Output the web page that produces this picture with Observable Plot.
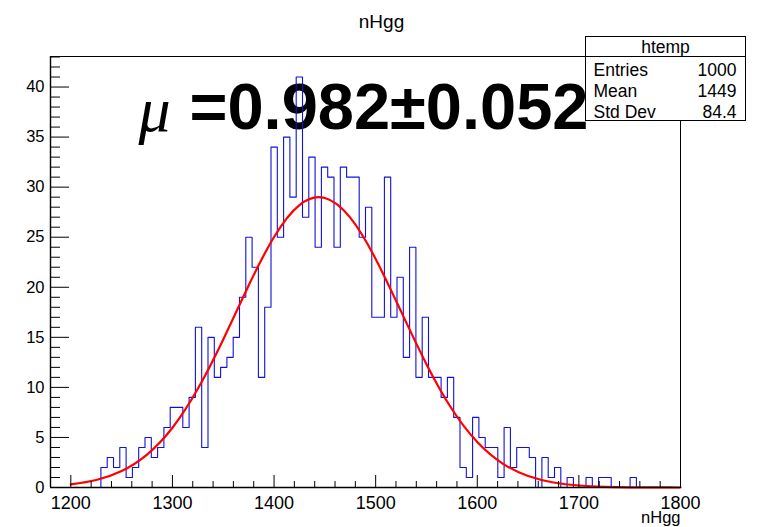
<!DOCTYPE html>
<html><head><meta charset="utf-8">
<script src="https://cdn.jsdelivr.net/npm/d3@7"></script>
<script src="https://cdn.jsdelivr.net/npm/@observablehq/plot@0.6"></script>
<style>
html,body{margin:0;padding:0;background:#fff;}
#chart{width:766px;height:527px;overflow:hidden;}
svg{font-family:"Liberation Sans",Arial,sans-serif;}
</style></head><body><div id="chart"></div>
<script>
// ---- data ----
const histTitle = "nHgg";
const xLabel = "nHgg";
const xMin = 1180, xMax = 1800, nBins = 100;
const counts = [0,0,0,0,0,0,0,0,2,3, 2,4,1,2,4,5,3,4,6,8, 8,6,9,16,4,15,11,12,13,15,
  19,25,22,11,18,34,25,35,29,41, 27,33,24,32,31,24,32,31,31,25, 28,17,17,31,17,21,13,24,11,17,
  11,11,9,11,7,2,1,7,5,4, 4,1,6,2,4,4,3,0,3,1, 2,0,1,0,0,1,0,1,1,0, 0,0,1,0,0,0,0,0,0,0];
const fitX = [1200,1225,1250,1275,1300,1325,1350,1375,1400,1425,1450,1475,1500,1525,1550,1575,1600,1625,1650,1675,1700,1725,1750,1775,1800];
const fitY = [0.31,0.75,1.65,3.29,5.97,9.86,14.79,20.18,25.02,28.21,28.92,26.95,22.83,17.59,12.32,7.84,4.54,2.39,1.14,0.50,0.20,0.07,0.02,0.01,0.00];
const xMajorTicks = [1200,1300,1400,1500,1600,1700,1800];
const yMajorTicks = [0,5,10,15,20,25,30,35,40];
const yMax = 43.05;
const statsName = "htemp";
const statsLabels = ["Entries","Mean","Std Dev"];
const statsValues = ["1000","1449","84.4"];
const muSymbol = "μ";
const muText = "=0.982±0.052";

// ---- derived tables ----
const binW = (xMax - xMin) / nBins;
const histPts = counts.map((c, i) => ({x: xMin + i * binW, y: c}));
histPts.push({x: xMax, y: 0});
const fitPts = fitX.map((x, i) => ({x, y: fitY[i]}));
const xMinorTicks = d3.range(1200, 1800, 20).filter(v => v % 100 !== 0);
const yMinorTicks = d3.range(1, 44).filter(v => v % 5 !== 0);

const W = 766, H = 527, mL = 50, mR = 86, mT = 56, mB = 40;
const fW = W - mL - mR, fH = H - mT - mB;

const chart = Plot.plot({
  width: W, height: H,
  marginLeft: mL, marginRight: mR, marginTop: mT, marginBottom: mB,
  style: {fontFamily: "Liberation Sans, Arial, sans-serif", background: "#fff", color: "#000"},
  x: {domain: [xMin, xMax]},
  y: {domain: [0, yMax]},
  marks: [
    Plot.axisX(xMajorTicks, {tickSize: 0, tickPadding: 9, fontSize: 18, label: null, tickFormat: d => String(d)}),
    Plot.axisY(yMajorTicks, {tickSize: 0, tickPadding: 6, fontSize: 16.5, label: null}),
    Plot.text([muText], {frameAnchor: "top-left", text: d => d, dx: 139, dy: 72, textAnchor: "start", lineAnchor: "bottom", fontSize: 65, fontWeight: "bold", fill: "#000"}),
    Plot.text([muSymbol], {frameAnchor: "top-left", text: d => d, dx: 88, dy: 74, textAnchor: "start", lineAnchor: "bottom", fontSize: 64, fontStyle: "italic", fontFamily: "Liberation Serif, serif", fill: "#000"}),
    Plot.line(histPts, {x: "x", y: "y", curve: "step-after", stroke: "#1010dd", strokeWidth: 1.1}),
    Plot.line(fitPts, {x: "x", y: "y", curve: "natural", stroke: "#ff0000", strokeWidth: 2.2}),
    Plot.ruleX(xMajorTicks, {x: d => d, insetTop: fH - 12, stroke: "#000"}),
    Plot.ruleX(xMinorTicks, {x: d => d, insetTop: fH - 6, stroke: "#000"}),
    Plot.ruleY(yMajorTicks, {y: d => d, insetRight: fW - 19, stroke: "#000"}),
    Plot.ruleY(yMinorTicks, {y: d => d, insetRight: fW - 10, stroke: "#000"}),
    Plot.frame({stroke: "#000", strokeWidth: 1}),
    Plot.ruleY([0], {stroke: "#000", strokeWidth: 1.6}),
    Plot.ruleX([xMin], {stroke: "#000", strokeWidth: 1.4}),
    Plot.text([histTitle], {frameAnchor: "top", text: d => d, dx: 16, dy: -42, fontSize: 19, fill: "#000"}),
    Plot.text([xLabel], {frameAnchor: "bottom-right", text: d => d, dy: 35, textAnchor: "end", fontSize: 16.5, fill: "#000"})
  ]
});
document.getElementById("chart").appendChild(chart);

const svg = d3.select(chart);
const bx = 585.5, by = 36.5, bw = 160, bh = 84, hh = 20;

// the stats box hides the end of the big label, as in the reference
svg.append("defs").append("clipPath").attr("id", "mu-clip")
  .append("rect").attr("x", 0).attr("y", 0).attr("width", bx).attr("height", H);
svg.selectAll("text").filter(function() { return this.textContent === muText; })
  .each(function() { d3.select(this.parentNode).attr("clip-path", "url(#mu-clip)"); });

// ---- stats box (ROOT TPaveStats) ----
const g = svg.append("g").attr("font-family", "Liberation Sans, Arial, sans-serif").attr("font-size", 17.5).attr("fill", "#000");
g.append("rect").attr("x", bx).attr("y", by).attr("width", bw).attr("height", bh).attr("fill", "#fff").attr("stroke", "#000");
g.append("line").attr("x1", bx).attr("x2", bx + bw).attr("y1", by + hh).attr("y2", by + hh).attr("stroke", "#000");
g.append("text").attr("x", bx + bw / 2).attr("y", by + 16).attr("text-anchor", "middle").text(statsName);
statsLabels.forEach((lab, i) => {
  const yy = by + 39.5 + i * 20.8;
  g.append("text").attr("x", bx + 8).attr("y", yy).attr("text-anchor", "start").text(lab);
  g.append("text").attr("x", bx + bw - 9).attr("y", yy).attr("text-anchor", "end").text(statsValues[i]);
});
</script></body></html>
